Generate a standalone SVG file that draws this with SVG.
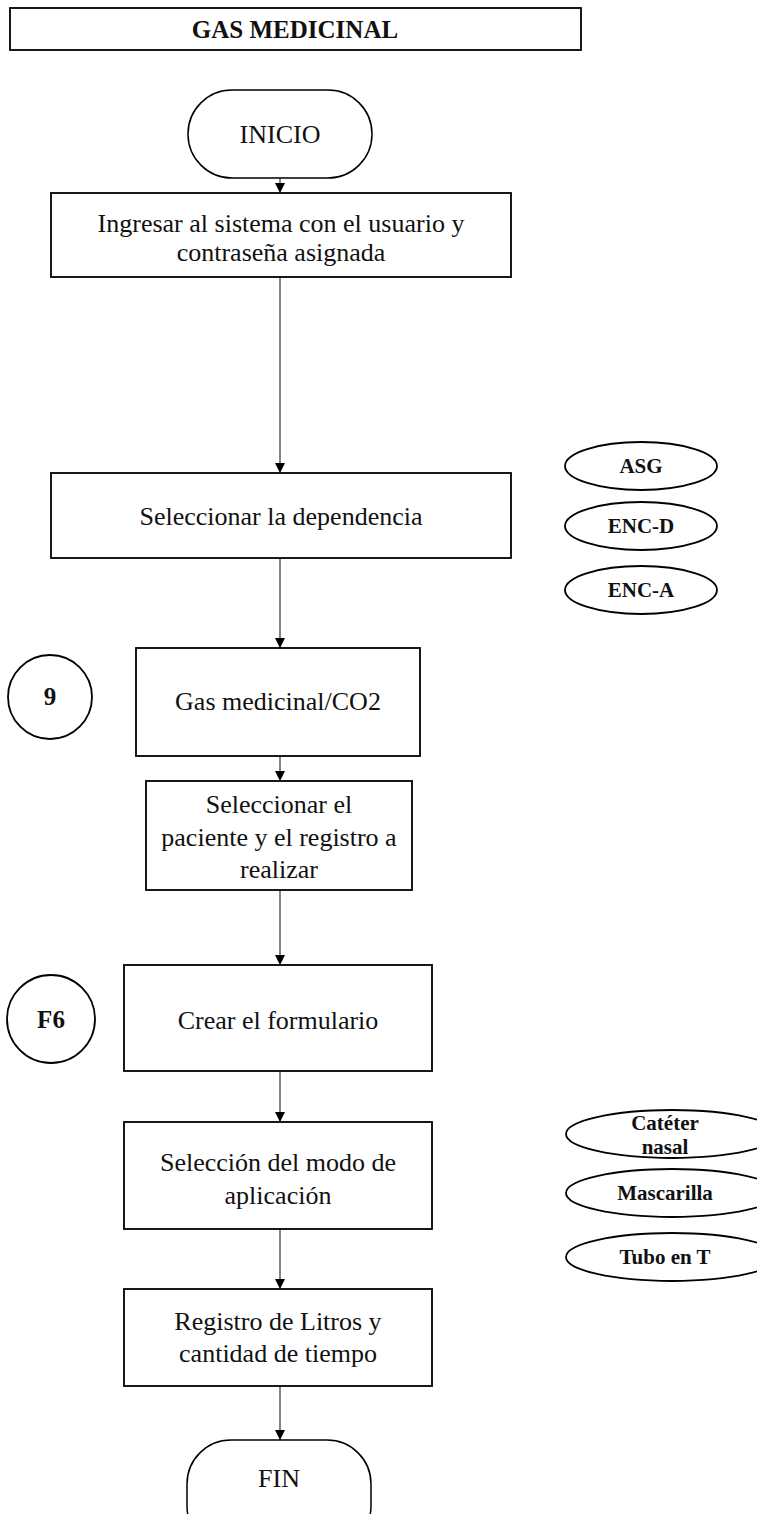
<svg xmlns="http://www.w3.org/2000/svg" width="757" height="1514" viewBox="0 0 757 1514">
  <defs>
    <marker id="arrow" viewBox="0 0 10 10" refX="10" refY="5" markerWidth="10" markerHeight="10" markerUnits="userSpaceOnUse" orient="auto">
      <path d="M0,0 L10,5 L0,10 Z" fill="#000"/>
    </marker>
    <style>
      .box { fill: #fff; stroke: #000; stroke-width: 1.8; }
      .term { fill: #fff; stroke: #000; stroke-width: 1.5; }
      .tag { fill: #fff; stroke: #000; stroke-width: 1.8; }
      .conn { fill: none; stroke: #333; stroke-width: 1.2; marker-end: url(#arrow); }
      .t { font-family: "Liberation Serif", "Times New Roman", serif; font-size: 26px; fill: #111; text-anchor: middle; }
      .tb { font-family: "Liberation Serif", "Times New Roman", serif; font-size: 21px; font-weight: bold; fill: #111; text-anchor: middle; }
      .big { font-size: 25px; }
    </style>
  </defs>

  <rect width="757" height="1514" fill="#fff"/>

  <!-- title banner -->
  <g id="title">
    <rect class="box" x="10" y="8" width="571" height="42"/>
    <text class="tb big" x="295" y="38">GAS MEDICINAL</text>
  </g>

  <!-- connectors along the main flow -->
  <g id="connectors">
    <line class="conn" x1="280" y1="178" x2="280" y2="193"/>
    <line class="conn" x1="280" y1="277" x2="280" y2="473"/>
    <line class="conn" x1="280" y1="558" x2="280" y2="648"/>
    <line class="conn" x1="280" y1="756" x2="280" y2="781"/>
    <line class="conn" x1="280" y1="890" x2="280" y2="965"/>
    <line class="conn" x1="280" y1="1071" x2="280" y2="1122"/>
    <line class="conn" x1="280" y1="1229" x2="280" y2="1289"/>
    <line class="conn" x1="280" y1="1386" x2="280" y2="1440"/>
  </g>

  <g id="inicio">
    <rect class="term" x="188" y="90" width="184" height="88" rx="44"/>
    <text class="t" x="280" y="143">INICIO</text>
  </g>

  <g id="ingresar">
    <rect class="box" x="51" y="193" width="460" height="84"/>
    <text class="t" x="281" y="232">Ingresar al sistema con el usuario y</text>
    <text class="t" x="281" y="261">contraseña asignada</text>
  </g>

  <g id="dependencia">
    <rect class="box" x="51" y="473" width="460" height="85"/>
    <text class="t" x="281" y="525">Seleccionar la dependencia</text>
  </g>

  <g id="dep-asg">
    <ellipse class="tag" cx="641" cy="466" rx="76" ry="24"/>
    <text class="tb" x="641" y="473">ASG</text>
  </g>
  <g id="dep-enc-d">
    <ellipse class="tag" cx="641" cy="526" rx="76" ry="24"/>
    <text class="tb" x="641" y="533">ENC-D</text>
  </g>
  <g id="dep-enc-a">
    <ellipse class="tag" cx="641" cy="590" rx="76" ry="24"/>
    <text class="tb" x="641" y="597">ENC-A</text>
  </g>

  <g id="ref-9">
    <circle class="tag" cx="50" cy="697" r="42"/>
    <text class="tb big" x="50" y="705">9</text>
  </g>

  <g id="gas-co2">
    <rect class="box" x="136" y="648" width="284" height="108"/>
    <text class="t" x="278" y="710">Gas medicinal/CO2</text>
  </g>

  <g id="paciente">
    <rect class="box" x="146" y="781" width="266" height="109"/>
    <text class="t" x="279" y="813">Seleccionar el</text>
    <text class="t" x="279" y="846">paciente y el registro a</text>
    <text class="t" x="279" y="878">realizar</text>
  </g>

  <g id="ref-f6">
    <ellipse class="tag" cx="51" cy="1019" rx="44" ry="44"/>
    <text class="tb big" x="51" y="1028">F6</text>
  </g>

  <g id="formulario">
    <rect class="box" x="124" y="965" width="308" height="106"/>
    <text class="t" x="278" y="1029">Crear el formulario</text>
  </g>

  <g id="modo">
    <rect class="box" x="124" y="1122" width="308" height="107"/>
    <text class="t" x="278" y="1171">Selección del modo de</text>
    <text class="t" x="278" y="1204">aplicación</text>
  </g>

  <g id="mode-cateter">
    <ellipse class="tag" cx="672" cy="1134" rx="106" ry="24"/>
    <text class="tb" x="665" y="1130">Catéter</text>
    <text class="tb" x="665" y="1154">nasal</text>
  </g>
  <g id="mode-mascarilla">
    <ellipse class="tag" cx="672" cy="1193" rx="106" ry="24"/>
    <text class="tb" x="665" y="1200">Mascarilla</text>
  </g>
  <g id="mode-tubo">
    <ellipse class="tag" cx="672" cy="1257" rx="106" ry="24"/>
    <text class="tb" x="665" y="1264">Tubo en T</text>
  </g>

  <g id="registro">
    <rect class="box" x="124" y="1289" width="308" height="97"/>
    <text class="t" x="278" y="1330">Registro de Litros y</text>
    <text class="t" x="278" y="1362">cantidad de tiempo</text>
  </g>

  <g id="fin">
    <rect class="term" x="187" y="1440" width="184" height="110" rx="44"/>
    <text class="t" x="279" y="1487">FIN</text>
  </g>
</svg>
